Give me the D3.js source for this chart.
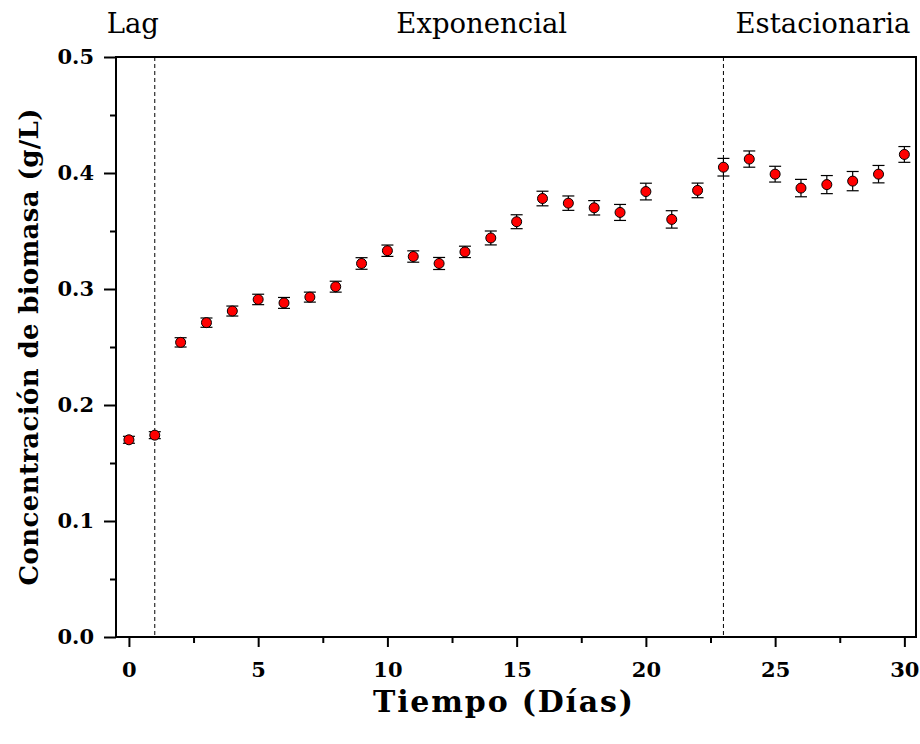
<!DOCTYPE html>
<html>
<head>
<meta charset="utf-8">
<script src="https://cdn.jsdelivr.net/npm/d3@7"></script>
<style>
	body { margin: 0; background: #fff; }
	text { font-family: "DejaVu Serif", serif; }
	.axis text { font-weight: bold; font-size: 21px; }
	.axis path { display: none; }
	.axis line { stroke: #000; stroke-width: 2px; }
</style>
</head>
<body>
<div id="chart"></div>
<script>
// Biomass over time, one reading per day
const days = [0, 1, 2, 3, 4, 5, 6, 7, 8, 9, 10, 11, 12, 13, 14, 15, 16, 17, 18, 19, 20, 21, 22, 23, 24, 25, 26, 27, 28, 29, 30];
const biomass = [0.170, 0.174, 0.254, 0.271, 0.281, 0.291, 0.288, 0.293, 0.302, 0.322, 0.333,
	0.328, 0.322, 0.332, 0.344, 0.358, 0.378, 0.374, 0.370, 0.366, 0.384,
	0.360, 0.385, 0.405, 0.412, 0.399, 0.387, 0.390, 0.393, 0.399, 0.416];
const errors = [0.003, 0.003, 0.004, 0.004, 0.0043, 0.0045, 0.0047, 0.0043, 0.0047, 0.005, 0.0049,
	0.0049, 0.0052, 0.0049, 0.006, 0.006, 0.0063, 0.0062, 0.0062, 0.0069, 0.0072,
	0.0075, 0.0063, 0.0076, 0.007, 0.0068, 0.0075, 0.0078, 0.0083, 0.0075, 0.0068];

// growth phases
const phaseBounds = [1, 23];
const phaseNames = ["Lag", "Exponencial", "Estacionaria"];
const phaseLabelAt = [0.15, 13.65, 26.85];

const xTicks = [0, 5, 10, 15, 20, 25, 30];
const xMinor = [2.5, 7.5, 12.5, 17.5, 22.5, 27.5];
const yTicks = [0.0, 0.1, 0.2, 0.3, 0.4, 0.5];
const yMinor = [0.05, 0.15, 0.25, 0.35, 0.45];

const margin = {top: 57, right: 4, bottom: 107, left: 116};
const W = 920, H = 744;
const width = W - margin.left - margin.right;
const height = H - margin.top - margin.bottom;

const svg = d3.select("#chart").append("svg")
	.attr("width", W)
	.attr("height", H);
const g = svg.append("g")
	.attr("transform", `translate(${margin.left}, ${margin.top})`);

const x = d3.scaleLinear().domain([-0.5, 30.45]).range([0, width]);
const y = d3.scaleLinear().domain([0, 0.5]).range([height, 0]);

// axes (major + minor ticks)
g.append("g")
	.attr("class", "axis")
	.attr("transform", `translate(0, ${height})`)
	.call(d3.axisBottom(x).tickValues(xTicks).tickSize(10).tickPadding(15).tickFormat(d3.format("d")));
g.append("g")
	.attr("class", "axis")
	.attr("transform", `translate(0, ${height})`)
	.call(d3.axisBottom(x).tickValues(xMinor).tickSize(6).tickFormat(""));
g.append("g")
	.attr("class", "axis")
	.call(d3.axisLeft(y).tickValues(yTicks).tickSize(12).tickPadding(10).tickFormat(d3.format(".1f")));
g.append("g")
	.attr("class", "axis")
	.call(d3.axisLeft(y).tickValues(yMinor).tickSize(6).tickFormat(""));

// frame
g.append("rect")
	.attr("width", width)
	.attr("height", height)
	.attr("fill", "none")
	.attr("stroke", "#000")
	.attr("stroke-width", 2);

// phase boundaries
g.selectAll(".phase-line")
	.data(phaseBounds)
	.enter().append("line")
	.attr("class", "phase-line")
	.attr("x1", d => x(d))
	.attr("x2", d => x(d))
	.attr("y1", 0)
	.attr("y2", height)
	.attr("stroke", "#000")
	.attr("stroke-width", 1)
	.attr("stroke-dasharray", "4,3");

g.selectAll(".phase-label")
	.data(phaseNames)
	.enter().append("text")
	.attr("class", "phase-label")
	.attr("x", (d, i) => x(phaseLabelAt[i]))
	.attr("y", -24)
	.attr("text-anchor", "middle")
	.attr("font-size", "27.5px")
	.text(d => d);

const points = days.map((d, i) => ({day: d, value: biomass[i], err: errors[i]}));

// error bars
const eb = g.selectAll(".errbar")
	.data(points)
	.enter().append("g")
	.attr("class", "errbar")
	.attr("stroke", "#000")
	.attr("stroke-width", 1.2);
eb.append("line")
	.attr("x1", d => x(d.day))
	.attr("x2", d => x(d.day))
	.attr("y1", d => y(d.value - d.err))
	.attr("y2", d => y(d.value + d.err));
eb.append("line")
	.attr("x1", d => x(d.day) - 6)
	.attr("x2", d => x(d.day) + 6)
	.attr("y1", d => y(d.value + d.err))
	.attr("y2", d => y(d.value + d.err));
eb.append("line")
	.attr("x1", d => x(d.day) - 6)
	.attr("x2", d => x(d.day) + 6)
	.attr("y1", d => y(d.value - d.err))
	.attr("y2", d => y(d.value - d.err));

g.selectAll(".dot")
	.data(points)
	.enter().append("circle")
	.attr("class", "dot")
	.attr("cx", d => x(d.day))
	.attr("cy", d => y(d.value))
	.attr("r", 5)
	.attr("fill", "#ff0000")
	.attr("stroke", "#000")
	.attr("stroke-width", 1);

// axis titles
svg.append("text")
	.attr("x", 503)
	.attr("y", 712)
	.attr("text-anchor", "middle")
	.attr("font-weight", "bold")
	.attr("font-size", "30px")
	.attr("textLength", 260)
	.attr("lengthAdjust", "spacing")
	.text("Tiempo (Días)");
svg.append("text")
	.attr("transform", "translate(38, 347) rotate(-90)")
	.attr("text-anchor", "middle")
	.attr("font-weight", "bold")
	.attr("font-size", "26px")
	.attr("textLength", 477)
	.attr("lengthAdjust", "spacing")
	.text("Concentración de biomasa (g/L)");
</script>
</body>
</html>
